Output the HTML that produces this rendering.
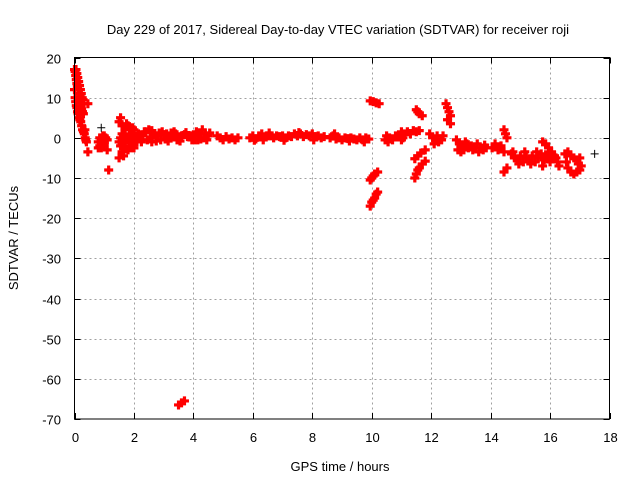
<!DOCTYPE html>
<html><head><meta charset="utf-8"><style>
body{margin:0;background:#fff;}
svg{display:block;font-family:"Liberation Sans",sans-serif;}
</style></head><body>
<svg id="chart" width="640" height="480" viewBox="0 0 640 480">
<text x="338" y="34" font-size="13" text-anchor="middle" fill="#000">Day 229 of 2017, Sidereal Day-to-day VTEC variation (SDTVAR) for receiver roji</text>
<g id="grid"></g><g id="ticks"></g><g id="marks"></g>
<rect x="74.5" y="57.5" width="535" height="361.5" fill="none" stroke="#000" stroke-width="1"/>
<text x="340" y="471" font-size="13" text-anchor="middle">GPS time / hours</text>
<text transform="translate(18,238) rotate(-90)" font-size="13" text-anchor="middle">SDTVAR / TECUs</text>
</svg>
<script>
const xTicks=[0,2,4,6,8,10,12,14,16,18];
const yTicks=[20,10,0,-10,-20,-30,-40,-50,-60,-70];
const redHours=[0,0.02,0.04,0.06,0.08,0.1,0.12,0.14,0.16,0.18,0.2,0.22,0.24,0.27,0.3,
0.05,0.08,0.11,0.14,0.17,0.2,0.23,0.26,0.29,0.32,
0,0.02,0.04,0.06,0.08,0.1,0.12,0.15,0.18,0.21,0.24,0.27,0.3,0.33,0.36,0.38,
0.45,0.4,0.45,0.35,1.15,1.1,1.0,
0.8,0.85,0.9,0.95,1.0,0.85,0.9,1.0,1.05,0.95,0.8,1.1,
1.5,1.55,1.6,1.6,1.55,1.5,1.55,1.6,1.5,1.65,1.7,1.7,1.7,1.75,1.8,1.85,1.8,1.85,1.8,1.9,1.9,1.95,2.0,2.0,2.05,2.0,2.1,2.1,2.15,1.65,1.75,1.95,
2.2,2.3,2.4,2.5,2.55,2.6,2.7,2.8,2.9,3.0,3.1,3.2,3.3,3.4,3.5,3.6,3.7,3.8,3.9,2.45,2.65,2.85,3.05,3.25,3.45,
3.5,3.6,3.7,
4.0,4.1,4.15,4.2,4.3,4.35,4.4,4.5,4.55,
4.8,4.9,5.0,5.1,5.2,5.3,5.4,5.5,
5.9,6.0,6.1,6.2,6.3,6.4,6.5,6.6,6.7,6.8,6.9,7.0,7.1,7.2,7.4,7.5,7.6,7.7,7.8,7.9,8.0,8.1,8.2,8.3,8.4,6.35,7.3,
8.6,8.7,8.8,8.9,9.0,9.1,9.2,9.3,9.4,9.5,9.6,9.7,9.8,9.9,
9.95,10.05,10.15,10.25,9.95,10.0,10.05,10.1,10.2,9.95,10.0,10.05,10.1,10.15,10.2,
10.45,10.5,10.55,10.6,10.7,10.8,
10.9,11.0,11.05,11.1,11.2,11.3,11.4,11.5,11.6,11.0,
11.5,11.55,11.6,11.7,
11.45,11.55,11.65,11.8,11.45,11.5,11.55,11.6,11.7,11.8,
11.95,12.05,12.15,12.25,12.35,12.4,12.1,12.2,
12.5,12.55,12.6,12.65,12.55,12.65,
12.85,12.95,13.05,13.15,13.25,13.35,13.45,13.55,13.65,13.75,13.85,12.9,13.1,
14.05,14.15,14.25,14.35,14.45,
14.45,14.5,14.55,14.45,14.55,
14.7,14.8,14.9,15.0,15.1,15.2,15.3,15.4,15.5,15.6,15.7,15.8,15.9,16.0,16.1,
15.75,15.85,15.95,16.05,16.15,16.25,16.3,16.2,
16.5,16.6,16.7,16.8,16.9,17.0,16.55,16.6,16.7,16.8,16.9,17.0,17.05,16.95,
2.25,2.35,2.6,2.75,2.95,3.15,3.35,3.55,3.75,3.95,4.05,4.25,4.45,6.05,6.55,7.05,7.55,8.05,8.75,9.25,9.75,
13.0,13.2,13.4,13.6,13.8,14.75,14.95,15.15,15.35,15.55,15.75,15.95];
const redValues=[17,16.5,15.5,14.5,13.5,12.8,12,11,10.2,9.5,8.8,8,7.2,6.5,6,
17,16,15,14,13,12,11,10,9.5,8.5,
12,10,9,8,7.5,6.5,6,5,4.5,4,3,2,1.5,1,0,-0.5,
8.5,-1,-3.5,2,-8,-3,-1.5,
-1,0,-0.5,0.5,-1,-2,-2.5,0.5,0,-2,-2.5,-0.5,
4,5,3,1,0,-1,-2,-3.5,-5,-4.5,-2,0,2,3.5,3,2,0,-1,-3,-2.5,1,2.5,2,0,-1,-2.5,0.5,-1,1,-1,-0.5,-0.5,
0,0.5,1.5,2,0,-1,1,0.5,-0.5,0.8,1,0,0.5,1,0,0.5,0.8,0.3,0.5,-0.5,0.8,1.2,-0.3,1.2,-0.5,
-66.5,-66,-65.5,
0.5,1.5,-0.5,1,2,0,1,0.5,1.2,
0.5,0,-0.5,0.3,-0.3,0,-0.5,0,
0,0.5,-0.3,0.5,1,0.2,0.5,0.5,0,0.5,0.3,0.5,0,0.5,1,0.5,1,0.3,0.8,0.5,1,0.3,0.5,0,0.3,-0.5,0.3,
0,0.5,-0.3,0,-0.5,0,-0.2,0,-0.3,-0.5,0,-0.5,0,-0.3,
9.2,9,8.7,8.5,-10.5,-10,-9.5,-9,-8.5,-17,-16,-15.5,-15,-14,-13.5,
-0.5,0.5,-1,0,-0.5,0.5,
0.5,1.5,0,1,1.5,1,1.8,1.5,1.8,-0.5,
7,6.5,6,5.5,
-5.2,-4.5,-3.8,-3,-10,-9,-8,-7.5,-6.5,-5.8,
1,0,-0.5,-1,-0.5,0.5,-1.5,0.5,
8.5,7.5,6.5,5.5,4.5,3.5,
-0.5,-1.5,-2,-1,-2.5,-2,-2.5,-1.5,-2.5,-3,-2.5,-3,-3,
-2.5,-1.5,-3,-2,-3.5,
2,1,0,-8.5,-7.5,
-4,-5,-5.5,-4.5,-6,-5,-5.5,-4.5,-6,-5,-4,-5.5,-4.5,-6,-5,
-1,-1.5,-2.5,-3.5,-4.5,-6,-7,-5,
-4,-3.5,-4.5,-5,-5.5,-5,-6,-7.5,-8.5,-9,-8.5,-8,-7,-6.5,
-1,1.5,1.8,-0.8,1.5,-0.8,1.5,-0.8,1.3,-0.5,-0.5,-0.3,-0.5,-0.6,1.2,-0.6,1.3,-0.5,1,-0.8,-1,
-3.5,-1.5,-3,-3.5,-1.8,-3.5,-6.5,-3.5,-6.5,-3.5,-7,-3.5];
const blackHours=[0.9,17.5];
const blackValues=[2.5,-4];

const X0=74.5,X1=609.5,Y0=419,Y1=57.5;
const xScale=h=>X0+(h-0)/18*(X1-X0);
const yScale=v=>Y0-(v+70)/90*(Y0-Y1);
const NS="http://www.w3.org/2000/svg";
const grid=document.getElementById('grid'),ticks=document.getElementById('ticks'),marks=document.getElementById('marks');
function mk(tag,attrs,parent){const e=document.createElementNS(NS,tag);for(const k in attrs)e.setAttribute(k,attrs[k]);parent.appendChild(e);return e;}
xTicks.forEach(t=>{const x=Math.round(xScale(t))+0.5;
 if(t>0&&t<18){const g=mk('line',{x1:x,x2:x,y1:Y1,y2:Y0,stroke:'#a0a0a0','stroke-dasharray':'2,3'},grid);
 
 }
 mk('line',{x1:x,x2:x,y1:Y0,y2:Y0-6,stroke:'#000'},ticks);
 mk('line',{x1:x,x2:x,y1:Y1,y2:Y1+6,stroke:'#000'},ticks);
 const l=mk('text',{x:x,y:442,'font-size':13,'text-anchor':'middle'},ticks);l.textContent=t;
 
 });
yTicks.forEach(t=>{const y=Math.round(yScale(t))+0.5;
 if(t>-70&&t<20){const g=mk('line',{x1:X0,x2:X1,y1:y,y2:y,stroke:'#a0a0a0','stroke-dasharray':'2,3'},grid);
 
 }
 mk('line',{x1:X0,x2:X0+6,y1:y,y2:y,stroke:'#000'},ticks);
 mk('line',{x1:X1,x2:X1-6,y1:y,y2:y,stroke:'#000'},ticks);
 const l=mk('text',{x:61,y:y+5,'font-size':13,'text-anchor':'end'},ticks);l.textContent=t;
 
 });
function plus(h,v,col,name){const x=xScale(h),y=yScale(v),s=col==='#000'?4:4.5;
 const p=mk('path',{d:`M${x-s},${y}H${x+s}M${x},${y-s}V${y+s}`,stroke:col,'stroke-width':col==='#000'?1:3.2,fill:'none'},marks);
 
 }
redHours.forEach((h,i)=>plus(h,redValues[i],'#ff0000','sdtvar-point'));
blackHours.forEach((h,i)=>plus(h,blackValues[i],'#000','outlier-point'));
</script>
</body></html>
